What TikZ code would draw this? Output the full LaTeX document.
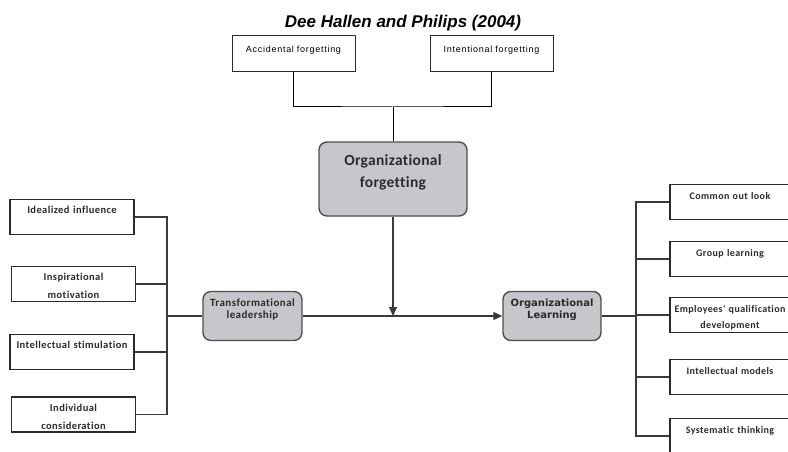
\documentclass[tikz,border=0pt]{standalone}
\usepackage{fontspec}
\usepackage{xcolor}
\usetikzlibrary{arrows.meta,positioning,calc}
\setmainfont{Liberation Sans}
\newfontfamily\calfont[LetterSpace=4,WordSpace=2,Ligatures=NoCommon]{Carlito}
\newfontfamily\headfont[LetterSpace=2,Ligatures=NoCommon]{Carlito}
\newfontfamily\thinfont[LetterSpace=8,WordSpace=2.5]{Liberation Sans}
\newfontfamily\learnfont{DejaVu Sans}
\definecolor{ink}{HTML}{2B2B2B}
\definecolor{wire}{HTML}{3A3A3A}
\definecolor{shade}{HTML}{C6C7CA}
\definecolor{rim}{HTML}{4E4E4E}
\tikzset{
  every picture/.style={line width=1.2pt, draw=wire, text=ink},
  card/.style={draw=ink, fill=white, line width=1.2pt, align=center, inner xsep=2pt, inner ysep=0pt},
  dimcard/.style={card, text width=120pt, text height=14pt, text depth=21pt, font=\calfont\bfseries\fontsize{10.5}{18}\selectfont},
  outcard/.style={card, text width=116pt, text height=14.5pt, text depth=20.5pt, font=\calfont\bfseries\fontsize{10}{16}\selectfont},
  kindcard/.style={card, line width=1pt, text width=119pt, text height=17pt, text depth=19pt, text=black, font=\thinfont\fontsize{9}{10}\selectfont},
  hub/.style={draw=rim, fill=shade, line width=1.4pt, rounded corners=8pt, align=center, inner xsep=2pt, inner ysep=0pt},
  lead/.style={-{Triangle[length=9pt,width=8pt]}},
}
\begin{document}
\begin{tikzpicture}[x=1pt, y=-1pt]
\useasboundingbox (0,0) rectangle (788,452);
\clip (0,0) rectangle (788,452);
\node[font=\bfseries\itshape\fontsize{17}{20}\selectfont, anchor=base, text=black] (title) at (403,28) {Dee Hallen and Philips (2004)};
% kinds of forgetting
\node[kindcard] (acc) at (293.5,54) {Accidental forgetting};
\node[kindcard] (int) at (491.5,54) {Intentional forgetting};
\coordinate (join) at (393,107);
\draw[line width=1pt, draw=black] (acc.south) |- (join) -| (int.south);
\node[hub, text width=144pt, text height=23pt, text depth=51pt, font=\headfont\bfseries\fontsize{15.5}{22}\selectfont] (forget) at (393,179) {Organizational\\forgetting};
\draw[line width=1pt, draw=black] (join) -- (forget.north);
% leadership side
\node[dimcard] (ideal) at (72,217) {Idealized influence};
\node[dimcard] (inspire) at (73.5,284) {Inspirational\\motivation};
\node[dimcard] (stimul) at (72,352) {Intellectual stimulation};
\node[dimcard] (indiv) at (73.5,414.5) {Individual\\consideration};
\node[hub, text width=95pt, text height=15pt, text depth=34pt, font=\calfont\bfseries\fontsize{11}{11.5}\selectfont] (trans) at (252.5,316) {Transformational\\leadership};
\coordinate (lbus) at (167,316);
\draw (ideal.east) -| (lbus);
\draw (indiv.east) -| (lbus);
\draw (inspire.east) -- (inspire.east -| lbus);
\draw (stimul.east) -- (stimul.east -| lbus);
\draw (lbus) -- (trans.west);
% learning side
\node[hub, text width=94pt, text height=15pt, text depth=34pt, font=\learnfont\bfseries\fontsize{10}{11.5}\selectfont] (learn) at (552,316) {Organizational\\Learning};
\draw[lead] (trans.east) -- (learn.west);
\coordinate (meet) at (393,316);
\draw[lead] (forget.south) -- (meet);
\node[outcard] (outlook) at (730,202) {Common out look};
\node[outcard] (group) at (730,259) {Group learning};
\node[outcard] (qualif) at (730,315) {Employees' qualification\\development};
\node[outcard] (models) at (730,377) {Intellectual models};
\node[outcard] (system) at (730,436) {Systematic thinking};
\coordinate (rbus) at (636,316);
\draw (learn.east) -- (rbus);
\draw (rbus) |- (outlook.west);
\draw (rbus) |- (system.west);
\draw (group.west) -- (group.west -| rbus);
\draw (qualif.west) -- (qualif.west -| rbus);
\draw (models.west) -- (models.west -| rbus);
\end{tikzpicture}
\end{document}
